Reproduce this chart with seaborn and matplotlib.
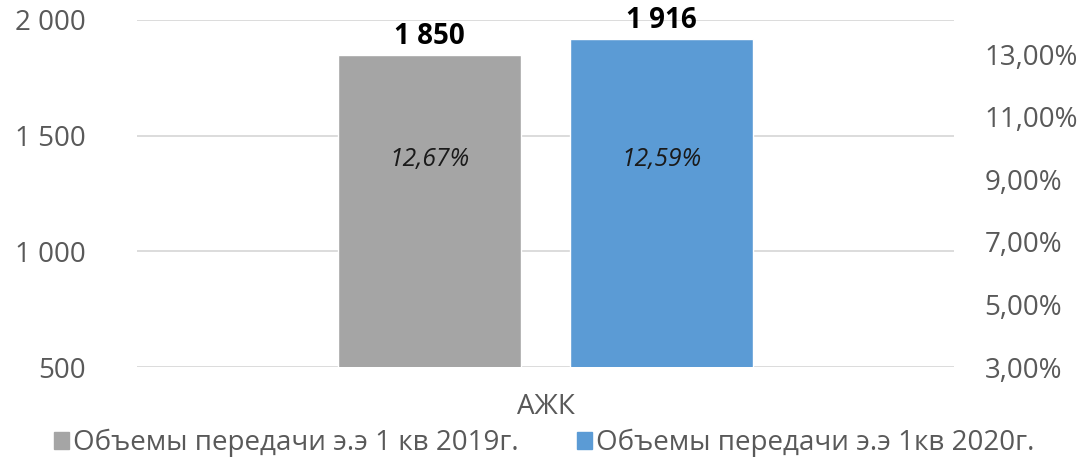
import matplotlib
matplotlib.use("Agg")
import matplotlib.pyplot as plt
from matplotlib.ticker import FuncFormatter
import seaborn as sns
import pandas as pd

# ── Data ──────────────────────────────────────────────────────────────────────
categories = ["АЖК"]
periods    = ["Объемы передачи э.э 1 кв 2019г.", "Объемы передачи э.э 1кв 2020г."]
volumes    = [1850, 1916]
shares     = [0.1267, 0.1259]
colors     = ["#A5A5A5", "#5B9BD5"]

left_ticks  = [500, 1000, 1500, 2000]
right_ticks = [0.03, 0.05, 0.07, 0.09, 0.11, 0.13]

df = pd.DataFrame({
    "category": categories * len(periods),
    "period": periods,
    "volume": volumes,
})

# ── Style ─────────────────────────────────────────────────────────────────────
sns.set_style("white")
plt.rcParams["font.family"] = ["Open Sans", "DejaVu Sans"]
TXT = "#595959"

def thousands(v, _=None):
    return f"{int(v):,}".replace(",", " ")

fig = plt.figure(figsize=(10.84, 4.62), dpi=100)
ax = fig.add_axes([137 / 1084, 95 / 462, 817 / 1084, 347 / 462])

sns.barplot(data=df, x="category", y="volume", hue="period",
            palette=colors, width=0.568, gap=0.21, saturation=1,
            ax=ax, legend=False)

ax.set_xlim(-0.5, 0.5)
ax.set_ylim(500, 2000)
ax.set_yticks(left_ticks)
ax.yaxis.set_major_formatter(FuncFormatter(thousands))
ax.grid(axis="y", color="#D9D9D9", linewidth=1.3)
ax.set_axisbelow(True)
ax.set_xlabel("")
ax.set_ylabel("")
for s in ax.spines.values():
    s.set_visible(False)
ax.tick_params(axis="y", length=0, pad=37, labelsize=20, labelcolor=TXT)
ax.tick_params(axis="x", length=0, pad=19, labelsize=20, labelcolor=TXT)

# value labels above bars, share labels inside
for cont, share in zip(ax.containers, shares):
    ax.bar_label(cont, labels=[thousands(b.get_height()) for b in cont],
                 padding=3, fontsize=20, fontweight="bold", color="black")
    for b in cont:
        ax.text(b.get_x() + b.get_width() / 2, 1395,
                f"{share * 100:.2f}%".replace(".", ","),
                ha="center", va="center", fontsize=17.7, style="italic",
                color="#1a1a1a")

# secondary axis
ax2 = ax.twinx()
ax2.set_ylim(0.03, 0.141)
ax2.set_yticks(right_ticks)
ax2.yaxis.set_major_formatter(
    FuncFormatter(lambda v, _: f"{v * 100:.2f}%".replace(".", ",")))
for s in ax2.spines.values():
    s.set_visible(False)
ax2.tick_params(axis="y", length=0, pad=22, labelsize=20, labelcolor=TXT)

# legend
handles = [plt.Rectangle((0, 0), 1, 1, color=c) for c in colors]
fig.legend(handles, periods, loc="center", bbox_to_anchor=(0.502, 1 - 443 / 462),
           ncol=2, frameon=False, fontsize=20, handlelength=0.54,
           handleheight=0.54, handletextpad=0.15, columnspacing=2.1,
           labelcolor=TXT, borderpad=0, borderaxespad=0)

fig.savefig("out.png", dpi=100)
